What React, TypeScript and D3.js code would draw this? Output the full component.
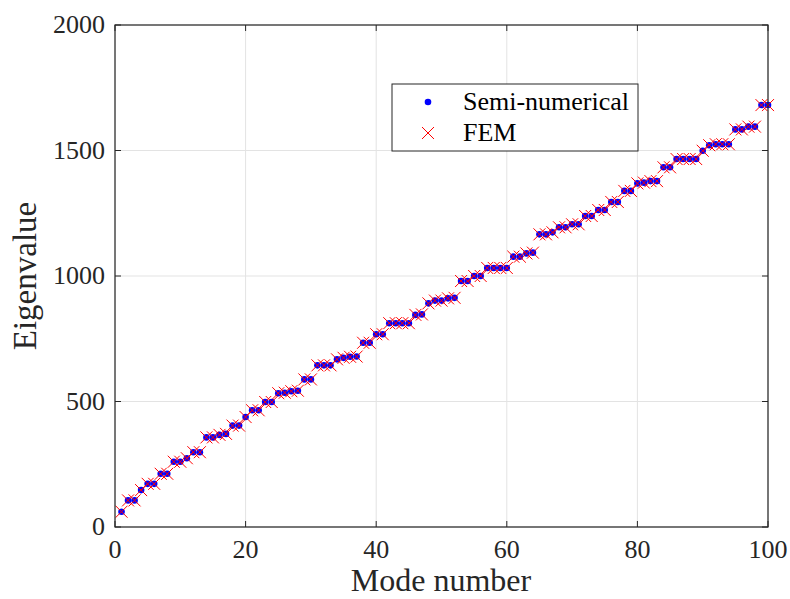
import React from "react";
import * as d3 from "d3";

const modes: number[] = Array.from({ length: 100 }, (_, i) => i + 1);
const semiNumerical: number[] = [
  61, 106, 106, 147, 172, 172, 212, 212, 260, 260,
  274, 298, 298, 357, 357, 367, 371, 404, 404, 438,
  465, 465, 498, 498, 533, 535, 541, 543, 588, 588,
  644, 644, 644, 668, 674, 678, 679, 734, 734, 768,
  768, 812, 812, 812, 812, 845, 847, 891, 902, 902,
  911, 913, 980, 980, 1000, 1000, 1032, 1032, 1032, 1032,
  1077, 1077, 1090, 1093, 1166, 1166, 1174, 1194, 1194, 1206,
  1206, 1239, 1239, 1263, 1263, 1295, 1295, 1339, 1339, 1369,
  1372, 1378, 1378, 1433, 1433, 1466, 1466, 1466, 1466, 1499,
  1521, 1525, 1525, 1525, 1584, 1584, 1595, 1595, 1681, 1681,
];
const fem: number[] = [
  61, 106, 106, 147, 172, 172, 212, 212, 260, 260,
  274, 298, 298, 357, 357, 367, 371, 404, 404, 438,
  465, 465, 498, 498, 533, 535, 541, 543, 588, 588,
  644, 644, 644, 668, 674, 678, 679, 734, 734, 768,
  768, 812, 812, 812, 812, 845, 847, 891, 902, 902,
  911, 913, 980, 980, 1000, 1000, 1032, 1032, 1032, 1032,
  1077, 1077, 1090, 1093, 1166, 1166, 1174, 1194, 1194, 1206,
  1206, 1239, 1239, 1263, 1263, 1295, 1295, 1339, 1339, 1369,
  1372, 1378, 1378, 1433, 1433, 1466, 1466, 1466, 1466, 1499,
  1521, 1525, 1525, 1525, 1584, 1584, 1595, 1595, 1681, 1681,
];
const xTicks: number[] = [0, 20, 40, 60, 80, 100];
const yTicks: number[] = [0, 500, 1000, 1500, 2000];
const seriesNames: string[] = ["Semi-numerical", "FEM"];

const W = 790;
const H = 599;
const L = 115;
const R = 768;
const T = 25;
const B = 527;
const FONT = "'Liberation Serif', 'DejaVu Serif', serif";
const AX = "#262626";

export default function App() {
  const x = d3.scaleLinear().domain([0, 100]).range([L, R]);
  const y = d3.scaleLinear().domain([0, 2000]).range([B, T]);
  const xs = 6;
  const tl = 6;
  return (
    <div style={{ position: "fixed", left: 0, top: 0 }}>
      <svg width={W} height={H} style={{ display: "block", background: "#fff" }}>
        <rect x={0} y={0} width={W} height={H} fill="#fff" />
        {xTicks.map((t) => (
          <line key={"gx" + t} x1={x(t)} x2={x(t)} y1={T} y2={B} stroke="#e3e3e3" strokeWidth={1} />
        ))}
        {yTicks.map((t) => (
          <line key={"gy" + t} x1={L} x2={R} y1={y(t)} y2={y(t)} stroke="#e3e3e3" strokeWidth={1} />
        ))}
        {modes.map((m, i) => (
          <circle key={"s" + m} cx={x(m)} cy={y(semiNumerical[i])} r={3.3} fill="#0000ff" />
        ))}
        {modes.map((m, i) => {
          const cx = x(m);
          const cy = y(fem[i]);
          return (
            <path
              key={"f" + m}
              d={`M${cx - xs},${cy - xs}L${cx + xs},${cy + xs}M${cx - xs},${cy + xs}L${cx + xs},${cy - xs}`}
              stroke="#ff0000"
              strokeWidth={1}
              fill="none"
            />
          );
        })}
        <rect x={L} y={T} width={R - L} height={B - T} fill="none" stroke={AX} strokeWidth={1.2} />
        {xTicks.map((t) => (
          <g key={"tx" + t}>
            <line x1={x(t)} x2={x(t)} y1={B} y2={B - tl} stroke={AX} />
            <line x1={x(t)} x2={x(t)} y1={T} y2={T + tl} stroke={AX} />
            <text x={x(t)} y={558} textAnchor="middle" fontFamily={FONT} fontSize={26} fill="#262626">
              {t}
            </text>
          </g>
        ))}
        {yTicks.map((t) => (
          <g key={"ty" + t}>
            <line x1={L} x2={L + tl} y1={y(t)} y2={y(t)} stroke={AX} />
            <line x1={R} x2={R - tl} y1={y(t)} y2={y(t)} stroke={AX} />
            <text x={105} y={y(t) + 8} textAnchor="end" fontFamily={FONT} fontSize={26} fill="#262626">
              {t}
            </text>
          </g>
        ))}
        <text x={441} y={591} textAnchor="middle" fontFamily={FONT} fontSize={32} fill="#262626">
          Mode number
        </text>
        <text
          transform={`translate(36,${(T + B) / 2}) rotate(-90)`}
          textAnchor="middle"
          fontFamily={FONT}
          fontSize={33}
          fill="#262626"
        >
          Eigenvalue
        </text>
        <g>
          <rect x={392} y={84} width={246} height={67} fill="#fff" stroke="#262626" strokeWidth={1} />
          <circle cx={428} cy={102} r={3.3} fill="#0000ff" />
          <text x={463} y={110} fontFamily={FONT} fontSize={26} fill="#000">
            {seriesNames[0]}
          </text>
          <path d={`M${428 - xs},${133 - xs}L${428 + xs},${133 + xs}M${428 - xs},${133 + xs}L${428 + xs},${133 - xs}`} stroke="#ff0000" strokeWidth={1} />
          <text x={463} y={141} fontFamily={FONT} fontSize={26} fill="#000">
            {seriesNames[1]}
          </text>
        </g>
      </svg>
    </div>
  );
}
